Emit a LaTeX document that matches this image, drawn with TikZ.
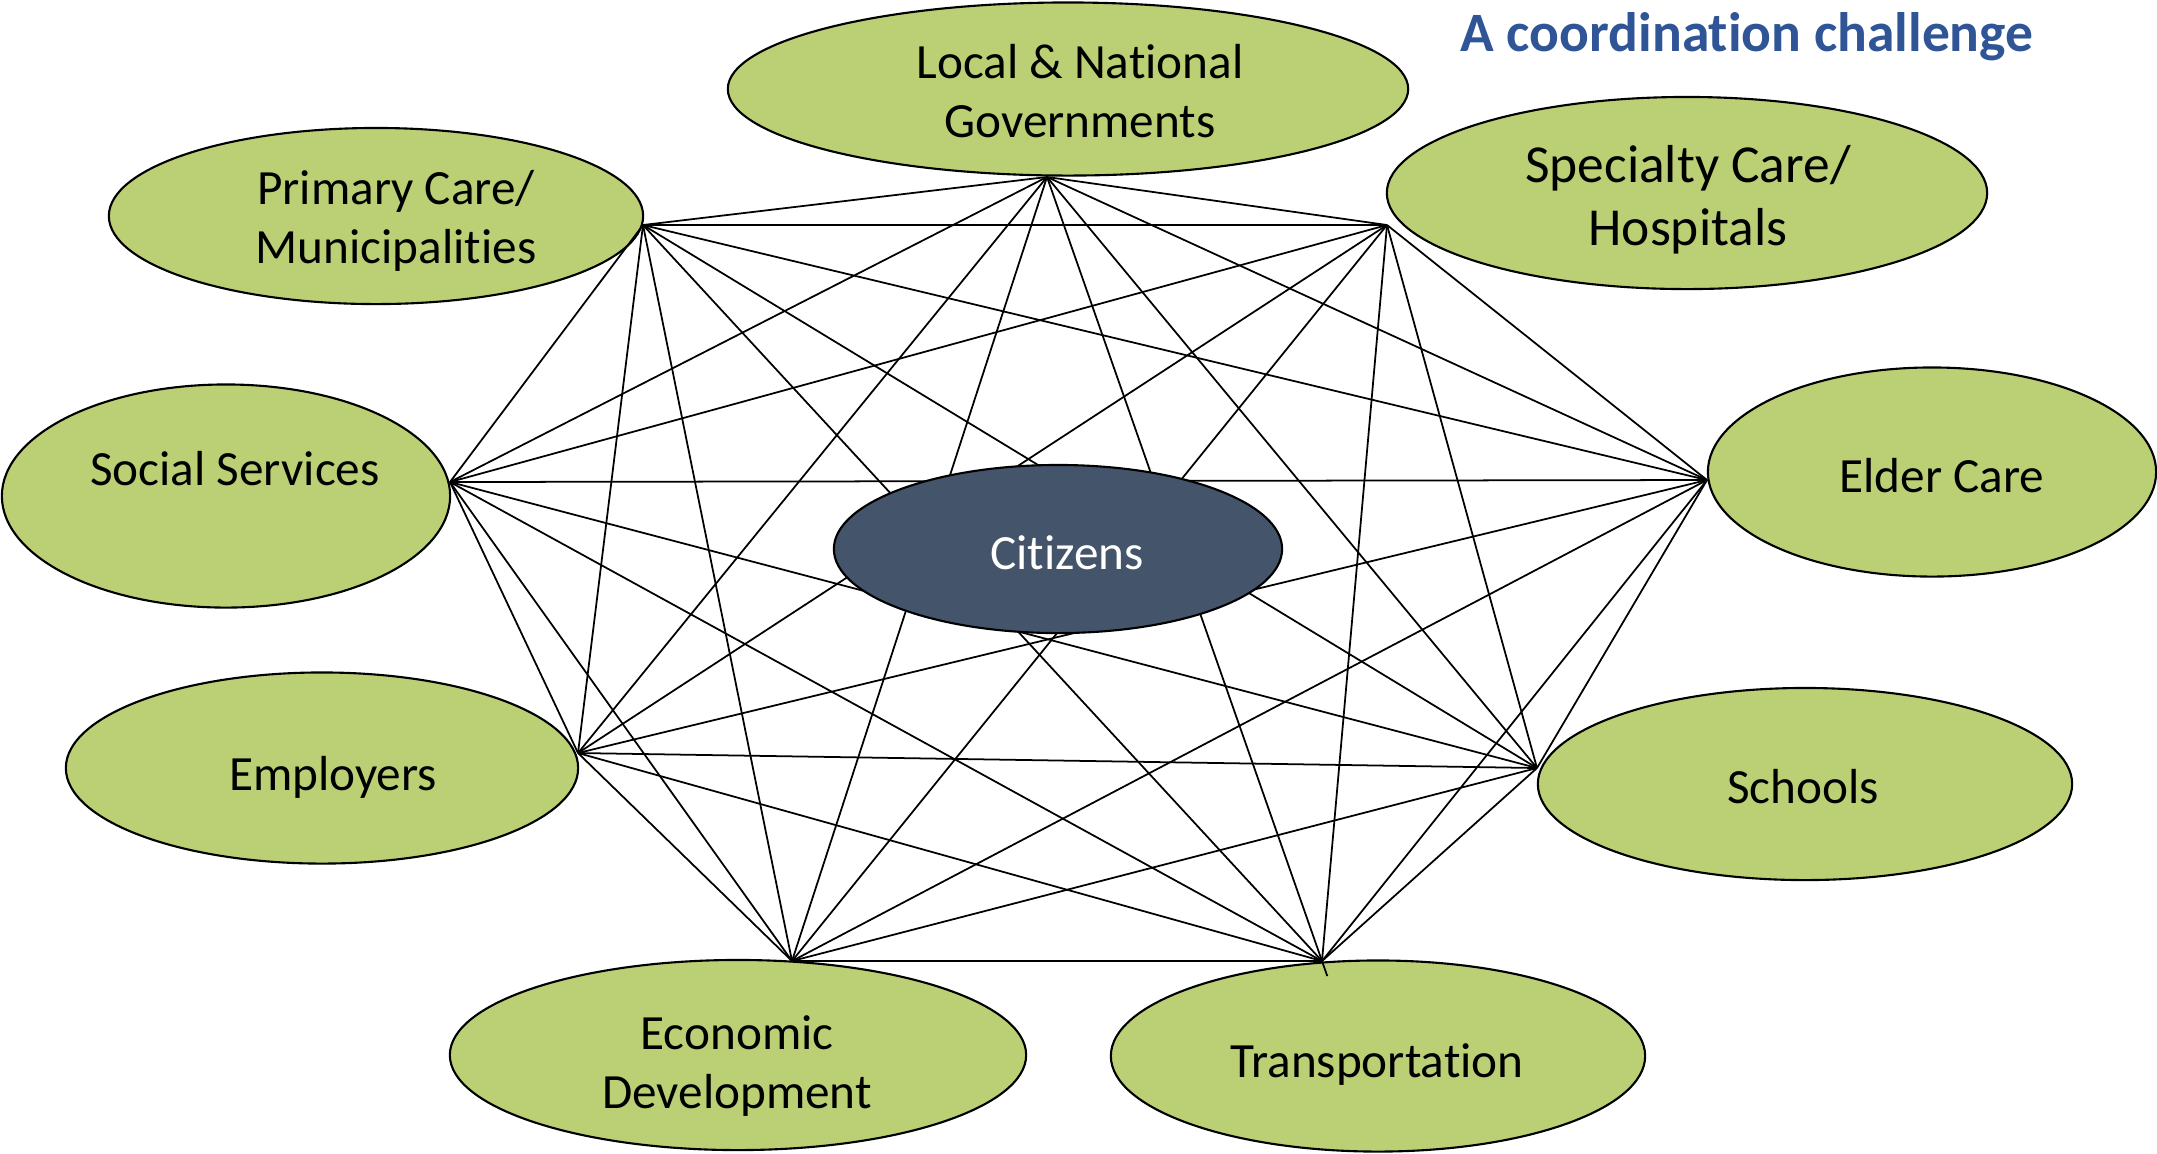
\documentclass[tikz,border=0pt]{standalone}
\usepackage{fontspec}
\setmainfont{Carlito}[Ligatures=NoCommon]
\usepackage{tikz}
\usetikzlibrary{shapes.geometric}
\definecolor{myblobcolor}{RGB}{187,208,116}
\definecolor{mycitizencolor}{HTML}{44546A}
\definecolor{mytitlecolor}{HTML}{2F5597}

\begin{document}
\begin{tikzpicture}[x=0.01cm, y=-0.01cm,
  blob/.style={draw, line width=0.6pt, fill=myblobcolor, ellipse, inner sep=0pt, outer sep=0pt},
  lbl/.style={align=center, font=\fontsize{14pt}{16.6pt}\selectfont},
  link/.style={line width=0.5pt}]%
\useasboundingbox (0,0) rectangle (2157,1153);%
% outer ellipses
\node[blob, minimum width=6.80cm, minimum height=1.73cm] (lng) at (1068, 89) {};%
\node[blob, minimum width=5.34cm, minimum height=1.76cm] (pc) at (376, 216) {};%
\node[blob, minimum width=6.00cm, minimum height=1.92cm] (sc) at (1687, 193) {};%
\node[blob, minimum width=4.48cm, minimum height=2.23cm] (ss) at (226, 496) {};%
\node[blob, minimum width=4.48cm, minimum height=2.09cm] (ec) at (1932, 472) {};%
\node[blob, minimum width=5.12cm, minimum height=1.91cm] (emp) at (322, 768) {};%
\node[blob, minimum width=5.34cm, minimum height=1.92cm] (sch) at (1805, 784) {};%
\node[blob, minimum width=5.76cm, minimum height=1.90cm] (ed) at (738, 1055) {};%
\node[blob, minimum width=5.34cm, minimum height=1.91cm] (tr) at (1378, 1056) {};%
\node[lbl] (lngText) at (1080, 91) {Local \& National\\Governments};%
\node[lbl] (pcText) at (396, 221) {Primary Care/\\Municipalities};%
\node[lbl, font=\fontsize{15.2pt}{17.8pt}\selectfont] (scText) at (1688, 200) {Specialty Care/\\Hospitals};%
\node[lbl] (ssText) at (235, 469) {Social Services};%
\node[lbl] (ecText) at (1942, 476) {Elder Care};%
\node[lbl] (empText) at (333, 777) {Employers};%
\node[lbl] (schText) at (1803, 787) {Schools};%
\node[lbl] (edText) at (737, 1066) {Economic\\Development};%
\node[lbl] (trText) at (1377, 1065) {Transportation};%
% meeting points of the connectors
\coordinate (lngHub) at (1047, 177);%
\coordinate (pcHub) at (643, 225);%
\coordinate (scHub) at (1387, 225);%
\coordinate (ssHub) at (450, 482);%
\coordinate (ecHub) at (1707, 480);%
\coordinate (empHub) at (578, 753);%
\coordinate (schHub) at (1537, 768);%
\coordinate (edHub) at (792, 961);%
\coordinate (trHub) at (1322, 961);%
% every pair connected
\draw[link] (lngHub) -- (pcHub);%
\draw[link] (lngHub) -- (scHub);%
\draw[link] (lngHub) -- (ssHub);%
\draw[link] (lngHub) -- (ecHub);%
\draw[link] (lngHub) -- (empHub);%
\draw[link] (lngHub) -- (schHub);%
\draw[link] (lngHub) -- (edHub);%
\draw[link, shorten >=-0.16cm] (lngHub) -- (trHub);%
\draw[link] (pcHub) -- (scHub);%
\draw[link] (pcHub) -- (ssHub);%
\draw[link] (pcHub) -- (ecHub);%
\draw[link] (pcHub) -- (empHub);%
\draw[link] (pcHub) -- (schHub);%
\draw[link] (pcHub) -- (edHub);%
\draw[link] (pcHub) -- (trHub);%
\draw[link] (scHub) -- (ssHub);%
\draw[link] (scHub) -- (ecHub);%
\draw[link] (scHub) -- (empHub);%
\draw[link] (scHub) -- (schHub);%
\draw[link] (scHub) -- (edHub);%
\draw[link] (scHub) -- (trHub);%
\draw[link] (ssHub) -- (ecHub);%
\draw[link] (ssHub) -- (empHub);%
\draw[link] (ssHub) -- (schHub);%
\draw[link] (ssHub) -- (edHub);%
\draw[link] (ssHub) -- (trHub);%
\draw[link] (ecHub) -- (empHub);%
\draw[link] (ecHub) -- (schHub);%
\draw[link] (ecHub) -- (edHub);%
\draw[link] (ecHub) -- (trHub);%
\draw[link] (empHub) -- (schHub);%
\draw[link] (empHub) -- (edHub);%
\draw[link] (empHub) -- (trHub);%
\draw[link] (schHub) -- (edHub);%
\draw[link] (schHub) -- (trHub);%
\draw[link] (edHub) -- (trHub);%
% centre
\node[draw, line width=0.6pt, fill=mycitizencolor, ellipse, inner sep=0pt, minimum width=4.48cm, minimum height=1.68cm] (cit) at (1058, 549) {};%
\node[lbl, text=white] (citText) at (1067, 553) {Citizens};%
\node[font=\fontsize{15.8pt}{18pt}\selectfont\bfseries, text=mytitlecolor] (heading) at (1747, 37) {A coordination challenge};%
\end{tikzpicture}
\end{document}
